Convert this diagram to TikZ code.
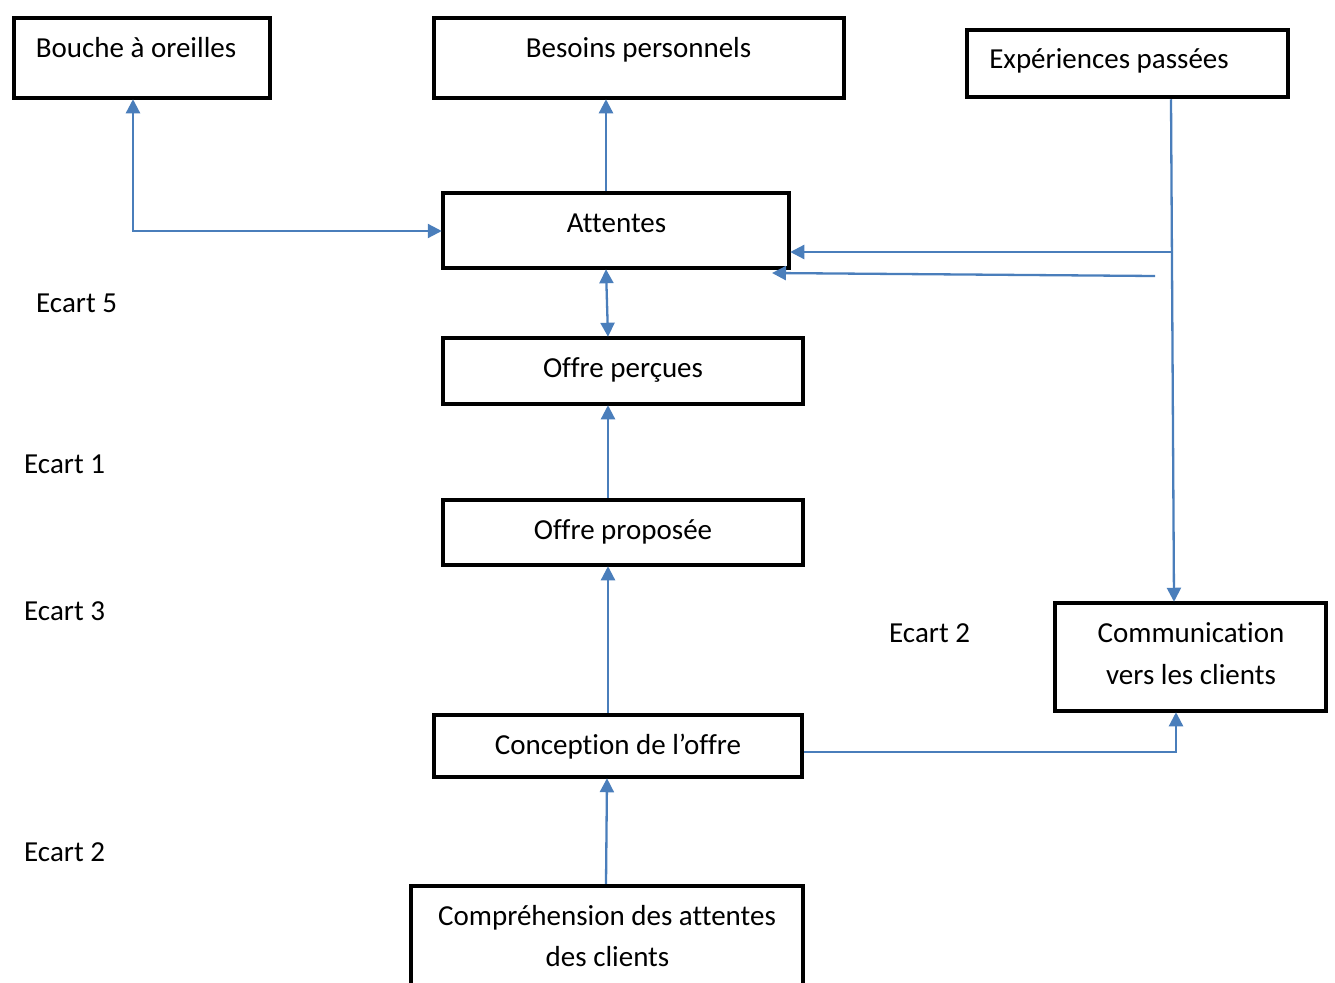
\documentclass[tikz,border=0pt]{standalone}
\usepackage{fontspec}
\setmainfont{Carlito}[Ligatures={NoCommon,NoRequired,NoContextual},Contextuals=NoAlternate]
\usetikzlibrary{arrows.meta}
\definecolor{connblue}{HTML}{4A7EBB}
\begin{document}
\begin{tikzpicture}[x=1pt,y=-1pt,
  box/.style={draw=black,line width=4.5pt,inner sep=0pt,fill=white},
  txt/.style={font=\fontsize{29pt}{42pt}\selectfont,anchor=base,inner sep=0pt},
  gap/.style={font=\fontsize{29pt}{42pt}\selectfont,anchor=base west,inner sep=0pt},
  conn/.style={draw=connblue,line width=2.3pt,arrows={-Triangle[length=14pt,width=14pt]}},
  conn2/.style={conn,arrows={Triangle[length=14pt,width=14pt]-Triangle[length=14pt,width=14pt]}}]
\useasboundingbox (0,0) rectangle (1335,982);
\begin{scope}
\clip (0,0) rectangle (1335,982);
% boxes
\node[box,minimum width=256pt,minimum height=80pt] (bouche) at (142,58) {};
\node[box,minimum width=410pt,minimum height=80pt] (besoins) at (639,58) {};
\node[box,minimum width=321pt,minimum height=67pt] (exp) at (1127.5,63.5) {};
\node[box,minimum width=346pt,minimum height=75pt] (att) at (616,230.5) {};
\node[box,minimum width=360pt,minimum height=66pt] (perc) at (623,371) {};
\node[box,minimum width=360pt,minimum height=65pt] (prop) at (623,532.5) {};
\node[box,minimum width=368pt,minimum height=62pt] (conc) at (618,746) {};
\node[box,minimum width=271pt,minimum height=108pt] (comm) at (1190.5,657) {};
\node[box,minimum width=392pt,minimum height=124pt] (compr) at (607,948) {};
% texts
\node[txt] (tbouche) at (136,57) {Bouche à oreilles};
\node[txt] (tbesoins) at (638.5,57) {Besoins personnels};
\node[txt] (texp) at (1109,68) {Expériences passées};
\node[txt] (tatt) at (616.5,232) {Attentes};
\node[txt] (tperc) at (623,377) {Offre perçues};
\node[txt] (tprop) at (623,539) {Offre proposée};
\node[txt] (tconc) at (618,754) {Conception de l’offre};
\node[txt] (tcomm1) at (1191,642) {Communication};
\node[txt] (tcomm2) at (1191,684) {vers les clients};
\node[txt] (tcompr1) at (607,925) {Compréhension des attentes};
\node[txt] (tcompr2) at (607.5,966) {des clients};
% gap labels
\node[gap] (e5) at (36,312) {Ecart 5};
\node[gap] (e1) at (24,473) {Ecart 1};
\node[gap] (e3) at (24,620) {Ecart 3};
\node[gap] (e2r) at (889,642) {Ecart 2};
\node[gap] (e2l) at (24,861) {Ecart 2};
% connectors
\coordinate (j1) at (1173,252);
\coordinate (j2) at (1155,276);
\coordinate (j3) at (772,273);
\draw[conn2] ([xshift=-9pt,yshift=1pt]bouche.south) |- ([xshift=1pt]att.west |- 0,231);
\draw[conn] ([xshift=-10pt]att.north) -- ([xshift=-33pt,yshift=1pt]besoins.south);
\draw[conn2] ([xshift=-10pt,yshift=1pt]att.south) -- ([xshift=-15pt,yshift=-1pt]perc.north);
\draw[conn] ([xshift=-15pt]prop.north) -- ([xshift=-15pt,yshift=1pt]perc.south);
\draw[conn] ([xshift=-10pt]conc.north) -- ([xshift=-15pt,yshift=1pt]prop.south);
\draw[conn] ([xshift=-1pt]compr.north) -- ([xshift=-11pt,yshift=1pt]conc.south);
\draw[conn] ([yshift=-6pt]conc.east) -| ([xshift=-14.5pt,yshift=1pt]comm.south);
\draw[conn] ([xshift=43.5pt]exp.south) -- ([xshift=-16.5pt,yshift=-1pt]comm.north);
\draw[conn] (j1) -- ([xshift=-1pt,yshift=-21.5pt]att.east);
\draw[conn] (j2) -- (j3);
\end{scope}
\end{tikzpicture}
\end{document}
